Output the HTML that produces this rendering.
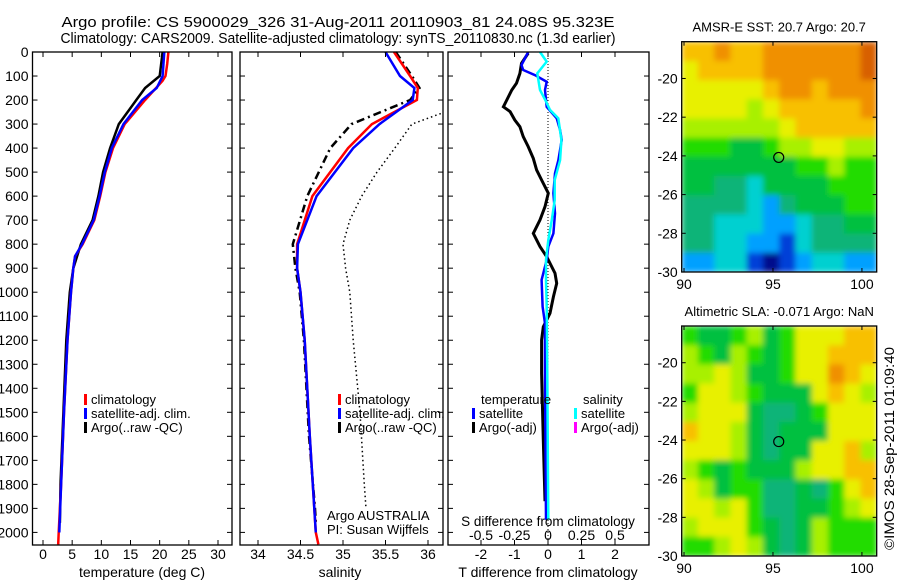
<!DOCTYPE html>
<html><head><meta charset="utf-8"><style>
body{margin:0;background:#fff;}
svg{display:block;font-family:"Liberation Sans",sans-serif;}
text{fill:#000;}
</style></head><body>
<svg id="fig" width="900" height="580" viewBox="0 0 900 580" xmlns="http://www.w3.org/2000/svg">
<rect width="900" height="580" fill="#fff"/>
<defs>
<clipPath id="c1"><rect x="32.5" y="45" width="200" height="500"/></clipPath>
<clipPath id="c2"><rect x="240" y="45" width="203" height="500"/></clipPath>
<clipPath id="c3"><rect x="448" y="45" width="201" height="500"/></clipPath>
<clipPath id="m1"><rect x="681.7" y="41.7" width="195" height="230.3"/></clipPath>
<clipPath id="m2"><rect x="681.7" y="326" width="195" height="230"/></clipPath>
<filter id="blur" x="0" y="0" width="1" height="1"><feGaussianBlur stdDeviation="3" edgeMode="duplicate"/></filter>
</defs>
<text x="338" y="27" text-anchor="middle" font-size="15" textLength="553" lengthAdjust="spacingAndGlyphs">Argo profile: CS 5900029_326 31-Aug-2011 20110903_81 24.08S 95.323E</text>
<text x="338" y="43" text-anchor="middle" font-size="15" textLength="555" lengthAdjust="spacingAndGlyphs">Climatology: CARS2009. Satellite-adjusted climatology: synTS_20110830.nc (1.3d earlier)</text>
<g id="g1"></g>
<g id="g2"></g>
<g id="g3"></g>
<g id="g4"></g>
<g id="g5"></g>
<text transform="translate(894,550) rotate(-90)" font-size="14" textLength="203" lengthAdjust="spacingAndGlyphs">©IMOS 28-Sep-2011 01:09:40</text>
</svg>
<script>
// ---------- data ----------
const depthTicks=[0,100,200,300,400,500,600,700,800,900,1000,1100,1200,1300,1400,1500,1600,1700,1800,1900,2000];
const tempTicks=[0,5,10,15,20,25,30];
const salTicks=[34,34.5,35,35.5,36];
const tdiffTicks=[-2,-1,0,1,2];
const sdiffTicks=[-0.5,-0.25,0,0.25,0.5];
const sdiffTickLabels=["-0.5","-0.25","0","0.25","0.5"];
const tempClimDepth=[0,50,100,120,200,300,400,500,600,700,800,850,900,1000,1200,1500,1800,2000,2050];
const tempClim=[21.5,21.3,21.0,20.5,17.5,14.0,12.0,10.7,9.8,8.8,6.8,5.5,5.2,4.8,4.2,3.6,3.1,2.7,2.6];
const tempSatDepth=[0,100,150,200,300,400,500,600,700,800,850,900,1000,1200,1500,1800,2000];
const tempSat=[20.8,20.5,19.5,17.0,13.8,11.8,10.6,9.7,8.7,6.7,5.5,5.2,4.8,4.2,3.6,3.1,2.8];
const tempArgoDepth=[0,100,150,200,250,300,400,500,600,700,800,900,1000,1200,1500,1800,1960];
const tempArgo=[20.5,20.0,17.5,16.0,14.5,13.0,11.5,10.3,9.5,8.5,6.5,5.2,4.6,4.0,3.5,3.0,2.9];
const salClimDepth=[0,100,150,200,300,400,600,800,900,1000,1200,1600,2000,2050];
const salClim=[35.6,35.79,35.88,35.87,35.34,35.06,34.64,34.46,34.46,34.5,34.55,34.61,34.68,34.71];
const salSatDepth=[0,100,150,200,300,400,600,800,900,1000,1200,1600,2000];
const salSat=[35.5,35.67,35.84,35.82,35.43,35.12,34.69,34.47,34.46,34.5,34.55,34.61,34.68];
const salArgoDepth=[0,100,150,200,300,400,600,800,900,1000,1200,1600,1900,1960];
const salArgo=[35.62,35.81,35.9,35.79,35.1,34.85,34.58,34.41,34.44,34.49,34.54,34.6,34.67,34.68];
const salDotDepth=[250,300,400,500,600,700,800,900,1000,1200,1500,1800,1900];
const salDot=[36.2,35.81,35.61,35.4,35.22,35.08,35.0,35.03,35.08,35.12,35.2,35.25,35.27];
const tdArgoDepth=[5,47,89,130,158,200,228,248,283,311,352,394,443,491,533,588,644,699,755,810,852,921,963,1019,1088,1144,1199,1338,1615,1870];
const tdArgo=[-0.59,-0.79,-0.84,-0.94,-1.08,-1.23,-1.33,-1.13,-0.99,-0.84,-0.74,-0.59,-0.44,-0.34,-0.19,0.01,-0.09,-0.24,-0.44,-0.24,-0.04,0.21,0.26,0.16,0.06,-0.14,-0.19,-0.19,-0.14,-0.09];
const tdSatDepth=[0,54,75,96,124,158,228,276,325,366,450,505,588,672,755,810,866,949,1060,1130,1338,1948];
const tdSat=[-0.59,-0.79,-0.74,-0.39,-0.04,-0.09,-0.04,0.26,0.36,0.41,0.31,0.21,0.16,0.21,0.16,0.01,-0.04,-0.19,-0.16,-0.09,-0.09,-0.06];
const sdSatDepth=[0,40,89,158,200,241,276,366,450,533,616,699,783,866,949,1060,1338,1948];
const sdSat=[-0.06,-0.01,-0.08,-0.06,-0.02,0.015,0.077,0.10,0.09,0.05,0.05,0.028,0.002,-0.015,-0.015,-0.01,-0.005,0.002];
const sstGrid=[
[9,9,10,9,9,10,10,10,10,10,10,11],
[8,9,9,9,9,10,10,10,10,10,10,11],
[8,8,8,8,8,9,10,10,9,10,10,10],
[8,8,8,8,7,8,9,9,9,9,9,10],
[7,7,7,7,7,7,8,9,9,9,9,9],
[6,6,6,5,5,6,7,7,8,8,7,7],
[5,5,5,5,5,5,5,6,6,7,6,6],
[5,5,4,4,3,5,5,5,5,6,6,6],
[4,4,4,4,3,2,4,5,5,5,6,6],
[4,4,3,3,3,2,2,3,4,4,5,5],
[4,4,3,3,2,2,1,3,4,4,4,4],
[2,2,3,3,1,0,1,2,3,3,2,2]];
const slaGrid=[
[6,5,5,6,7,5,6,8,8,8,9,9],
[7,6,5,7,6,5,6,8,8,9,9,9],
[7,7,8,7,5,5,6,8,8,10,9,8],
[6,8,8,7,6,5,5,5,8,9,8,7],
[7,8,8,8,5,4,4,5,6,8,8,8],
[9,8,8,7,5,4,5,5,5,8,8,8],
[8,8,8,7,5,4,5,5,8,8,9,7],
[7,6,5,6,5,5,5,7,8,8,9,9],
[8,7,5,6,6,4,4,5,4,6,8,9],
[8,8,7,8,6,4,4,5,5,6,7,8],
[7,8,8,8,6,5,4,5,7,6,6,6],
[6,6,7,8,7,5,4,5,7,6,6,6]];
const lonTicks=[90,95,100];
const latTicks=[-20,-22,-24,-26,-28,-30];
const floatLon=95.323, floatLat=-24.08;
const palette=["#00108c","#0040d8","#00a0ff","#00d0d0","#10b478","#00c040","#20dc00","#a8f000","#e8f000","#f8c000","#f09000","#d86000"];

// ---------- helpers ----------
const NS="http://www.w3.org/2000/svg";
function mk(tag,attrs,parent,txt){const e=document.createElementNS(NS,tag);for(const k in attrs)e.setAttribute(k,attrs[k]);if(txt!==undefined)e.textContent=txt;parent.appendChild(e);return e;}
const Y=d=>52+d*0.2402;
const xT=v=>43+v*5.833;
const xS=v=>258+(v-34)*85;
const xTD=v=>548+v*33.5;
const xSD=v=>548+v*134;
function line(g,depths,vals,fx,color,w,dash,clip,name){
  const pts=depths.map((d,i)=>fx(vals[i]).toFixed(1)+","+Y(d).toFixed(1)).join(" ");
  const p=mk("polyline",{points:pts,fill:"none",stroke:color,"stroke-width":w,"clip-path":"url(#"+clip+")"},g);
  if(dash)p.setAttribute("stroke-dasharray",dash);
  
  
}
function frame(g,x0,x1,yTop,yBot,name){
  const r=mk("rect",{x:x0,y:yTop,width:x1-x0,height:yBot-yTop,fill:"none",stroke:"#000","stroke-width":1.3},g);
  
  
}
function depthTickMarks(g,x0,x1,labels){
  depthTicks.forEach(d=>{const y=Y(d);
    mk("line",{x1:x0,y1:y,x2:x0+5,y2:y,stroke:"#000"},g);
    mk("line",{x1:x1,y1:y,x2:x1-5,y2:y,stroke:"#000"},g);
    if(labels){const t=mk("text",{x:x0-4,y:y+5,"text-anchor":"end","font-size":14},g,String(d));
      
      }
  });
}
function xTicks(g,ticks,labs,fx,yTop,yBot,labY,name){
  ticks.forEach((v,i)=>{const x=fx(v);
    mk("line",{x1:x,y1:yBot,x2:x,y2:yBot-5,stroke:"#000"},g);
    mk("line",{x1:x,y1:yTop,x2:x,y2:yTop+5,stroke:"#000"},g);
    const t=mk("text",{x:x,y:labY,"text-anchor":"middle","font-size":14},g,labs[i]);
    
    
  });
}
function legendEntry(g,x,y,color,label){
  mk("rect",{x:x,y:y-10,width:3,height:11,fill:color},g);
  const t=mk("text",{x:x+7,y:y,"font-size":13},g,label);
  
  
}
function txt(g,x,y,s,size,anchor,name){
  const t=mk("text",{x:x,y:y,"font-size":size,"text-anchor":anchor||"start"},g,s);
  
  
}

// ---------- panel 1 ----------
const g1=document.getElementById("g1");
line(g1,tempArgoDepth,tempArgo,xT,"#000",2.5,null,"c1","temp-argo-line");
line(g1,tempClimDepth,tempClim,xT,"#f00",2.5,null,"c1","temp-climatology-line");
line(g1,tempSatDepth,tempSat,xT,"#00f",2.5,null,"c1","temp-satellite-line");
frame(g1,32.5,232,52,545,"temperature-axes");
depthTickMarks(g1,32.5,232,true);
xTicks(g1,tempTicks,tempTicks.map(String),xT,52,545,559,"temperature-tick-label");
txt(g1,142,577,"temperature (deg C)",14,"middle","temperature-axis-title");
legendEntry(g1,84,404,"#f00","climatology");
legendEntry(g1,84,418,"#00f","satellite-adj. clim.");
legendEntry(g1,84,432,"#000","Argo(..raw -QC)");

// ---------- panel 2 ----------
const g2=document.getElementById("g2");
line(g2,salDotDepth,salDot,xS,"#000",1.5,"1.5 3","c2","salinity-dotted-line");
line(g2,salArgoDepth,salArgo,xS,"#000",2.5,"8 4 2 4","c2","salinity-argo-line");
line(g2,salClimDepth,salClim,xS,"#f00",2.5,null,"c2","salinity-climatology-line");
line(g2,salSatDepth,salSat,xS,"#00f",2.5,null,"c2","salinity-satellite-line");
frame(g2,240,443,52,545,"salinity-axes");
depthTickMarks(g2,240,443,false);
xTicks(g2,salTicks,["34","34.5","35","35.5","36"],xS,52,545,559,"salinity-tick-label");
txt(g2,340,577,"salinity",14,"middle","salinity-axis-title");
legendEntry(g2,338,404,"#f00","climatology");
legendEntry(g2,338,418,"#00f","satellite-adj. clim.");
legendEntry(g2,338,432,"#000","Argo(..raw -QC)");
txt(g2,327,520,"Argo AUSTRALIA",13,"start","argo-source-label");
txt(g2,327,534,"PI: Susan Wijffels",13,"start","pi-label");

// ---------- panel 3 ----------
const g3=document.getElementById("g3");
mk("line",{x1:xTD(0),y1:52,x2:xTD(0),y2:545,stroke:"#000","stroke-dasharray":"1 2"},g3);
line(g3,tdArgoDepth,tdArgo,xTD,"#000",3,null,"c3","temp-diff-argo-line");
line(g3,tdSatDepth,tdSat,xTD,"#00f",2.5,null,"c3","temp-diff-satellite-line");
line(g3,sdSatDepth,sdSat,xSD,"#00ffff",2.5,null,"c3","sal-diff-satellite-line");
frame(g3,448,649,52,545,"difference-axes");
depthTickMarks(g3,448,649,false);
xTicks(g3,tdiffTicks,tdiffTicks.map(String),xTD,52,545,559,"tdiff-tick-label");
txt(g3,548,577,"T difference from climatology",14,"middle","tdiff-axis-title");
sdiffTicks.forEach((v,i)=>txt(g3,xSD(v),540,sdiffTickLabels[i],14,"middle","sdiff-tick-label"));
txt(g3,548,526,"S difference from climatology",13.5,"middle","sdiff-axis-title");
txt(g3,481,404,"temperature",13,"start","legend-temperature-header");
txt(g3,583,404,"salinity",13,"start","legend-salinity-header");
legendEntry(g3,472,418,"#00f","satellite");
legendEntry(g3,472,432,"#000","Argo(-adj)");
legendEntry(g3,574,418,"#00ffff","satellite");
legendEntry(g3,574,432,"#ff00ff","Argo(-adj)");

// ---------- maps ----------
function drawMap(g,grid,top,bot,title,name,clip){
  const x0=681.7,x1=876.7,lon0=89.87,lon1=100.83;
  const pxPerDeg=(bot-top)/11.9;
  const fx=lon=>x0+(lon-lon0)/(lon1-lon0)*(x1-x0);
  const fy=lat=>bot-(lat+30)*pxPerDeg;
  const rows=grid.length,cols=grid[0].length;
  const cw=(x1-x0)/cols,ch=(bot-top)/rows;
  const outer=mk("g",{"clip-path":"url(#"+clip+")"},g);
  const cells=mk("g",{filter:"url(#blur)"},outer);
  grid.forEach((row,r)=>row.forEach((v,c)=>{
    const cell=mk("rect",{x:x0+c*cw,y:top+r*ch,width:cw+0.6,height:ch+0.6,fill:palette[v]},cells);
    
    
  }));
  frame(g,x0,x1,top,bot,name+"-frame");
  lonTicks.forEach(l=>{const x=fx(l);
    mk("line",{x1:x,y1:bot,x2:x,y2:bot-4,stroke:"#000"},g);
    mk("line",{x1:x,y1:top,x2:x,y2:top+4,stroke:"#000"},g);
    txt(g,x,bot+17,String(l),14,"middle","lon-tick-label");});
  latTicks.forEach(l=>{const y=fy(l);
    mk("line",{x1:x0,y1:y,x2:x0+4,y2:y,stroke:"#000"},g);
    mk("line",{x1:x1,y1:y,x2:x1-4,y2:y,stroke:"#000"},g);
    txt(g,x0-4,y+5,String(l),14,"end","lat-tick-label");});
  const m=mk("circle",{cx:fx(floatLon),cy:fy(floatLat),r:5,fill:"none",stroke:"#000","stroke-width":1.2},g);
  
  
  const t=mk("text",{x:(x0+x1)/2,y:top-10,"font-size":13,"text-anchor":"middle"},g,title);
  
  
}
drawMap(document.getElementById("g4"),sstGrid,41.7,272,"AMSR-E SST: 20.7 Argo: 20.7","sst-map","m1");
drawMap(document.getElementById("g5"),slaGrid,326,556,"Altimetric SLA: -0.071 Argo: NaN","sla-map","m2");
</script>
</body></html>
